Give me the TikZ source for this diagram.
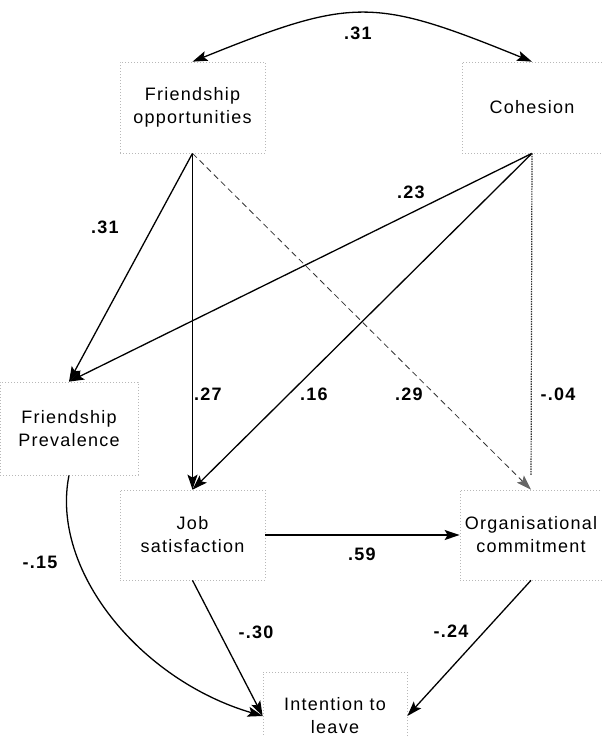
\documentclass[tikz,border=0pt]{standalone}
\usepackage{fontspec}
\setmainfont{Liberation Sans}[LetterSpace=7]
\usetikzlibrary{arrows.meta}
\begin{document}
\begin{tikzpicture}[x=1pt,y=-1pt,
  box/.style={draw=black!28, dash pattern=on 1pt off 2pt, line width=0.7pt, align=center,
    font=\fontsize{18}{23}\selectfont, inner sep=0pt},
  lab/.style={font=\fontsize{18}{20}\selectfont\bfseries, inner sep=0pt},
  tipb/.tip={Stealth[length=15pt,width=10pt,inset=3pt]},
  tipg/.tip={Stealth[length=15pt,width=10pt,inset=3pt,color=black!60]},
  arr/.style={line width=1.3pt, -tipb},
  dbl/.style={line width=1.3pt, tipb-tipb},
  dsh/.style={line width=0.8pt, black!80, dash pattern=on 6pt off 4pt, -tipg},
  dtt/.style={line width=1.2pt, black!80, dash pattern=on 1.5pt off 1pt, shorten >=14pt},
]
\useasboundingbox (0,0) rectangle (602,737);

\node[box, minimum width=145, minimum height=91] (fo) at (192.5,107.5) {Friendship\\opportunities};
\node[box, minimum width=140, minimum height=91] (coh) at (532,107.5) {Cohesion};
\node[box, minimum width=138, minimum height=93] (fp) at (69,428.5) {Friendship\\Prevalence};
\node[box, minimum width=145, minimum height=90] (js) at (192.5,535) {Job\\satisfaction};
\node[box, minimum width=142, minimum height=90] (oc) at (531,535) {Organisational\\commitment};
\node[box, minimum width=144, minimum height=88] (il) at (335,716) {Intention to\\leave};

\draw[dbl] (fo.north) .. controls (353,-3) and (373,-3) .. (coh.north);
\draw[arr] (fo.south) -- (fp.north);
\draw[arr] (fo.south) -- (js.north);
\draw[dsh] (fo.south) -- (oc.north);
\draw[arr] (coh.south) -- (fp.north);
\draw[arr] (coh.south) -- (js.north);
\draw[dtt] (coh.south) -- (oc.north);
\draw[arr] (fp.south) .. controls (50,570) and (140,680) .. (il.west);
\draw[arr] (js.east) -- (oc.west);
\draw[arr] (js.south) -- (il.west);
\draw[arr] (oc.south) -- (il.east);

\node[lab] (l1) at (358,33) {.31};
\node[lab] (l2) at (105,227) {.31};
\node[lab] (l3) at (411,192) {.23};
\node[lab] (l4) at (208,394) {.27};
\node[lab] (l5) at (314,394) {.16};
\node[lab] (l6) at (409,394) {.29};
\node[lab] (l7) at (558,394) {-.04};
\node[lab] (l8) at (40,562) {-.15};
\node[lab] (l9) at (362,554) {.59};
\node[lab] (l10) at (256,632) {-.30};
\node[lab] (l11) at (451,631) {-.24};
\end{tikzpicture}
\end{document}
